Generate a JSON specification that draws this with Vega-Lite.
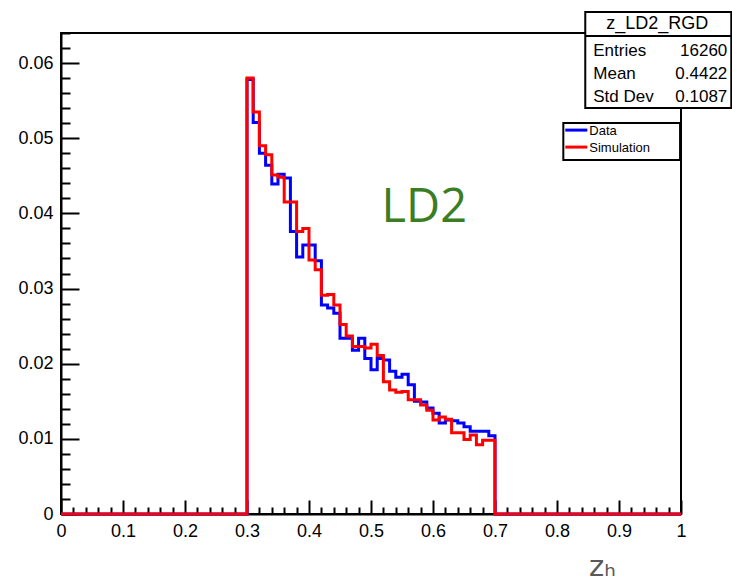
{
  "$schema": "https://vega.github.io/schema/vega-lite/v6.json",
  "width": 620,
  "height": 481,
  "autosize": "none",
  "padding": {"left": 61, "top": 33, "right": 51, "bottom": 67},
  "background": "white",
  "config": {
    "view": {"stroke": "black", "strokeWidth": 2},
    "axis": {"grid": false, "domainColor": "black", "domainWidth": 2, "tickColor": "black", "tickWidth": 2, "labelColor": "black", "labelFont": "Liberation Sans", "labelFontSize": 18}
  },
  "datasets": {
    "hist": [
      {"x": 0, "y": 0, "series": "Data"},
      {"x": 0.30, "y": 0.0578, "series": "Data"},
      {"x": 0.31, "y": 0.0521, "series": "Data"},
      {"x": 0.32, "y": 0.0480, "series": "Data"},
      {"x": 0.33, "y": 0.0464, "series": "Data"},
      {"x": 0.34, "y": 0.0439, "series": "Data"},
      {"x": 0.35, "y": 0.0452, "series": "Data"},
      {"x": 0.36, "y": 0.0447, "series": "Data"},
      {"x": 0.37, "y": 0.0376, "series": "Data"},
      {"x": 0.38, "y": 0.0342, "series": "Data"},
      {"x": 0.39, "y": 0.0358, "series": "Data"},
      {"x": 0.40, "y": 0.0358, "series": "Data"},
      {"x": 0.41, "y": 0.0337, "series": "Data"},
      {"x": 0.42, "y": 0.0278, "series": "Data"},
      {"x": 0.43, "y": 0.0274, "series": "Data"},
      {"x": 0.44, "y": 0.0267, "series": "Data"},
      {"x": 0.45, "y": 0.0234, "series": "Data"},
      {"x": 0.46, "y": 0.0234, "series": "Data"},
      {"x": 0.47, "y": 0.0218, "series": "Data"},
      {"x": 0.48, "y": 0.0234, "series": "Data"},
      {"x": 0.49, "y": 0.0207, "series": "Data"},
      {"x": 0.50, "y": 0.0192, "series": "Data"},
      {"x": 0.51, "y": 0.0207, "series": "Data"},
      {"x": 0.52, "y": 0.0205, "series": "Data"},
      {"x": 0.53, "y": 0.0190, "series": "Data"},
      {"x": 0.54, "y": 0.0182, "series": "Data"},
      {"x": 0.55, "y": 0.0186, "series": "Data"},
      {"x": 0.56, "y": 0.0172, "series": "Data"},
      {"x": 0.57, "y": 0.0150, "series": "Data"},
      {"x": 0.58, "y": 0.0149, "series": "Data"},
      {"x": 0.59, "y": 0.0141, "series": "Data"},
      {"x": 0.60, "y": 0.0134, "series": "Data"},
      {"x": 0.61, "y": 0.0121, "series": "Data"},
      {"x": 0.62, "y": 0.0125, "series": "Data"},
      {"x": 0.63, "y": 0.0124, "series": "Data"},
      {"x": 0.64, "y": 0.0121, "series": "Data"},
      {"x": 0.65, "y": 0.0116, "series": "Data"},
      {"x": 0.66, "y": 0.0110, "series": "Data"},
      {"x": 0.67, "y": 0.0110, "series": "Data"},
      {"x": 0.68, "y": 0.0110, "series": "Data"},
      {"x": 0.69, "y": 0.0104, "series": "Data"},
      {"x": 0.70, "y": 0, "series": "Data"},
      {"x": 1, "y": 0, "series": "Data"},
      {"x": 0, "y": 0, "series": "Simulation"},
      {"x": 0.30, "y": 0.0580, "series": "Simulation"},
      {"x": 0.31, "y": 0.0535, "series": "Simulation"},
      {"x": 0.32, "y": 0.0490, "series": "Simulation"},
      {"x": 0.33, "y": 0.0478, "series": "Simulation"},
      {"x": 0.34, "y": 0.0451, "series": "Simulation"},
      {"x": 0.35, "y": 0.0448, "series": "Simulation"},
      {"x": 0.36, "y": 0.0415, "series": "Simulation"},
      {"x": 0.37, "y": 0.0415, "series": "Simulation"},
      {"x": 0.38, "y": 0.0376, "series": "Simulation"},
      {"x": 0.39, "y": 0.0380, "series": "Simulation"},
      {"x": 0.40, "y": 0.0338, "series": "Simulation"},
      {"x": 0.41, "y": 0.0325, "series": "Simulation"},
      {"x": 0.42, "y": 0.0291, "series": "Simulation"},
      {"x": 0.43, "y": 0.0292, "series": "Simulation"},
      {"x": 0.44, "y": 0.0278, "series": "Simulation"},
      {"x": 0.45, "y": 0.0252, "series": "Simulation"},
      {"x": 0.46, "y": 0.0237, "series": "Simulation"},
      {"x": 0.47, "y": 0.0223, "series": "Simulation"},
      {"x": 0.48, "y": 0.0223, "series": "Simulation"},
      {"x": 0.49, "y": 0.0221, "series": "Simulation"},
      {"x": 0.50, "y": 0.0226, "series": "Simulation"},
      {"x": 0.51, "y": 0.0211, "series": "Simulation"},
      {"x": 0.52, "y": 0.0176, "series": "Simulation"},
      {"x": 0.53, "y": 0.0165, "series": "Simulation"},
      {"x": 0.54, "y": 0.0162, "series": "Simulation"},
      {"x": 0.55, "y": 0.0163, "series": "Simulation"},
      {"x": 0.56, "y": 0.0152, "series": "Simulation"},
      {"x": 0.57, "y": 0.0152, "series": "Simulation"},
      {"x": 0.58, "y": 0.0145, "series": "Simulation"},
      {"x": 0.59, "y": 0.0138, "series": "Simulation"},
      {"x": 0.60, "y": 0.0125, "series": "Simulation"},
      {"x": 0.61, "y": 0.0129, "series": "Simulation"},
      {"x": 0.62, "y": 0.0126, "series": "Simulation"},
      {"x": 0.63, "y": 0.0108, "series": "Simulation"},
      {"x": 0.64, "y": 0.0108, "series": "Simulation"},
      {"x": 0.65, "y": 0.0099, "series": "Simulation"},
      {"x": 0.66, "y": 0.0105, "series": "Simulation"},
      {"x": 0.67, "y": 0.0092, "series": "Simulation"},
      {"x": 0.68, "y": 0.0098, "series": "Simulation"},
      {"x": 0.69, "y": 0.0098, "series": "Simulation"},
      {"x": 0.70, "y": 0, "series": "Simulation"},
      {"x": 1, "y": 0, "series": "Simulation"}
    ]
  },
  "resolve": {"axis": {"x": "independent", "y": "independent"}},
  "layer": [
    {
      "data": {"name": "hist"},
      "mark": {"type": "point", "opacity": 0},
      "encoding": {
        "x": {"field": "x", "type": "quantitative", "scale": {"domain": [0, 1], "nice": false, "zero": false},
          "axis": {"orient": "bottom", "values": [0.02,0.04,0.06,0.08,0.12,0.14,0.16,0.18,0.22,0.24,0.26,0.28,0.32,0.34,0.36,0.38,0.42,0.44,0.46,0.48,0.52,0.54,0.56,0.58,0.62,0.64,0.66,0.68,0.72,0.74,0.76,0.78,0.82,0.84,0.86,0.88,0.92,0.94,0.96,0.98], "labels": false, "domain": false, "tickSize": -7, "title": null}},
        "y": {"field": "y", "type": "quantitative", "scale": {"domain": [0, 0.064], "nice": false},
          "axis": {"orient": "left", "values": [0.002,0.004,0.006,0.008,0.012,0.014,0.016,0.018,0.022,0.024,0.026,0.028,0.032,0.034,0.036,0.038,0.042,0.044,0.046,0.048,0.052,0.054,0.056,0.058,0.062,0.064], "labels": false, "domain": false, "tickSize": -9, "title": null}}
      }
    },
    {
      "data": {"name": "hist"},
      "mark": {"type": "line", "interpolate": "step-after", "strokeWidth": 3},
      "encoding": {
        "x": {"field": "x", "type": "quantitative",
          "axis": {"orient": "bottom", "values": [0,0.1,0.2,0.3,0.4,0.5,0.6,0.7,0.8,0.9,1], "format": "~g", "tickSize": -14, "labelPadding": 22, "labelFlush": false,
            "title": "zₕ", "titleFont": "DejaVu Sans", "titleFontSize": 29, "titleFontWeight": "normal", "titleColor": "#595959", "titleX": 541, "titleY": 61, "titleAlign": "center", "titleBaseline": "alphabetic", "titleAnchor": "start"}},
        "y": {"field": "y", "type": "quantitative",
          "axis": {"orient": "left", "values": [0,0.01,0.02,0.03,0.04,0.05,0.06], "format": "~g", "tickSize": -18, "labelPadding": 26, "labelFlush": false, "title": null}},
        "color": {"field": "series", "type": "nominal", "scale": {"domain": ["Data", "Simulation"], "range": ["#0000ff", "#ff0000"]}, "legend": null}
      }
    },
    {
      "data": {"values": [{}]},
      "mark": {"type": "text", "text": "LD2", "font": "Open Sans", "fontSize": 47, "color": "#3b7d23", "align": "center", "baseline": "alphabetic"},
      "encoding": {
        "x": {"datum": 0.586, "type": "quantitative", "axis": null},
        "y": {"datum": 0.03885, "type": "quantitative", "axis": null}
      }
    },
    {
      "data": {"values": [{}]},
      "mark": {"type": "rect", "fill": "white", "stroke": "black", "strokeWidth": 2},
      "encoding": {
        "x": {"datum": 0.8456, "type": "quantitative", "axis": null},
        "x2": {"datum": 1.0811},
        "y": {"datum": 0.0668, "type": "quantitative", "axis": null},
        "y2": {"datum": 0.05402}
      }
    },
    {
      "data": {"values": [{}]},
      "mark": {"type": "rule", "stroke": "black", "strokeWidth": 2},
      "encoding": {
        "x": {"datum": 0.8456, "type": "quantitative", "axis": null},
        "x2": {"datum": 1.0811},
        "y": {"datum": 0.06359, "type": "quantitative", "axis": null}
      }
    },
    {
      "data": {"values": [{}]},
      "mark": {"type": "text", "text": "z_LD2_RGD", "font": "Liberation Sans", "fontSize": 18, "color": "black", "align": "center", "baseline": "alphabetic"},
      "encoding": {
        "x": {"datum": 0.9618, "type": "quantitative", "axis": null},
        "y": {"datum": 0.06452, "type": "quantitative", "axis": null}
      }
    },
    {
      "data": {"values": [{}]},
      "mark": {"type": "text", "text": ["Entries", "Mean", "Std Dev"], "lineHeight": 23, "font": "Liberation Sans", "fontSize": 17, "color": "black", "align": "left", "baseline": "alphabetic"},
      "encoding": {
        "x": {"datum": 0.8585, "type": "quantitative", "axis": null},
        "y": {"datum": 0.06093, "type": "quantitative", "axis": null}
      }
    },
    {
      "data": {"values": [{}]},
      "mark": {"type": "text", "text": ["16260", "0.4422", "0.1087"], "lineHeight": 23, "font": "Liberation Sans", "fontSize": 17, "color": "black", "align": "right", "baseline": "alphabetic"},
      "encoding": {
        "x": {"datum": 1.0747, "type": "quantitative", "axis": null},
        "y": {"datum": 0.06093, "type": "quantitative", "axis": null}
      }
    },
    {
      "data": {"values": [{}]},
      "mark": {"type": "rect", "fill": "white", "stroke": "black", "strokeWidth": 2},
      "encoding": {
        "x": {"datum": 0.8102, "type": "quantitative", "axis": null},
        "x2": {"datum": 0.9985},
        "y": {"datum": 0.05201, "type": "quantitative", "axis": null},
        "y2": {"datum": 0.04709}
      }
    },
    {
      "data": {"values": [{}]},
      "mark": {"type": "rule", "stroke": "#0000ff", "strokeWidth": 3},
      "encoding": {
        "x": {"datum": 0.8134, "type": "quantitative", "axis": null},
        "x2": {"datum": 0.8489},
        "y": {"datum": 0.05108, "type": "quantitative", "axis": null}
      }
    },
    {
      "data": {"values": [{}]},
      "mark": {"type": "rule", "stroke": "#ff0000", "strokeWidth": 3},
      "encoding": {
        "x": {"datum": 0.8134, "type": "quantitative", "axis": null},
        "x2": {"datum": 0.8489},
        "y": {"datum": 0.04882, "type": "quantitative", "axis": null}
      }
    },
    {
      "data": {"values": [{}]},
      "mark": {"type": "text", "text": ["Data", "Simulation"], "lineHeight": 17, "font": "Liberation Sans", "fontSize": 13, "color": "black", "align": "left", "baseline": "alphabetic"},
      "encoding": {
        "x": {"datum": 0.8521, "type": "quantitative", "axis": null},
        "y": {"datum": 0.05042, "type": "quantitative", "axis": null}
      }
    }
  ]
}
